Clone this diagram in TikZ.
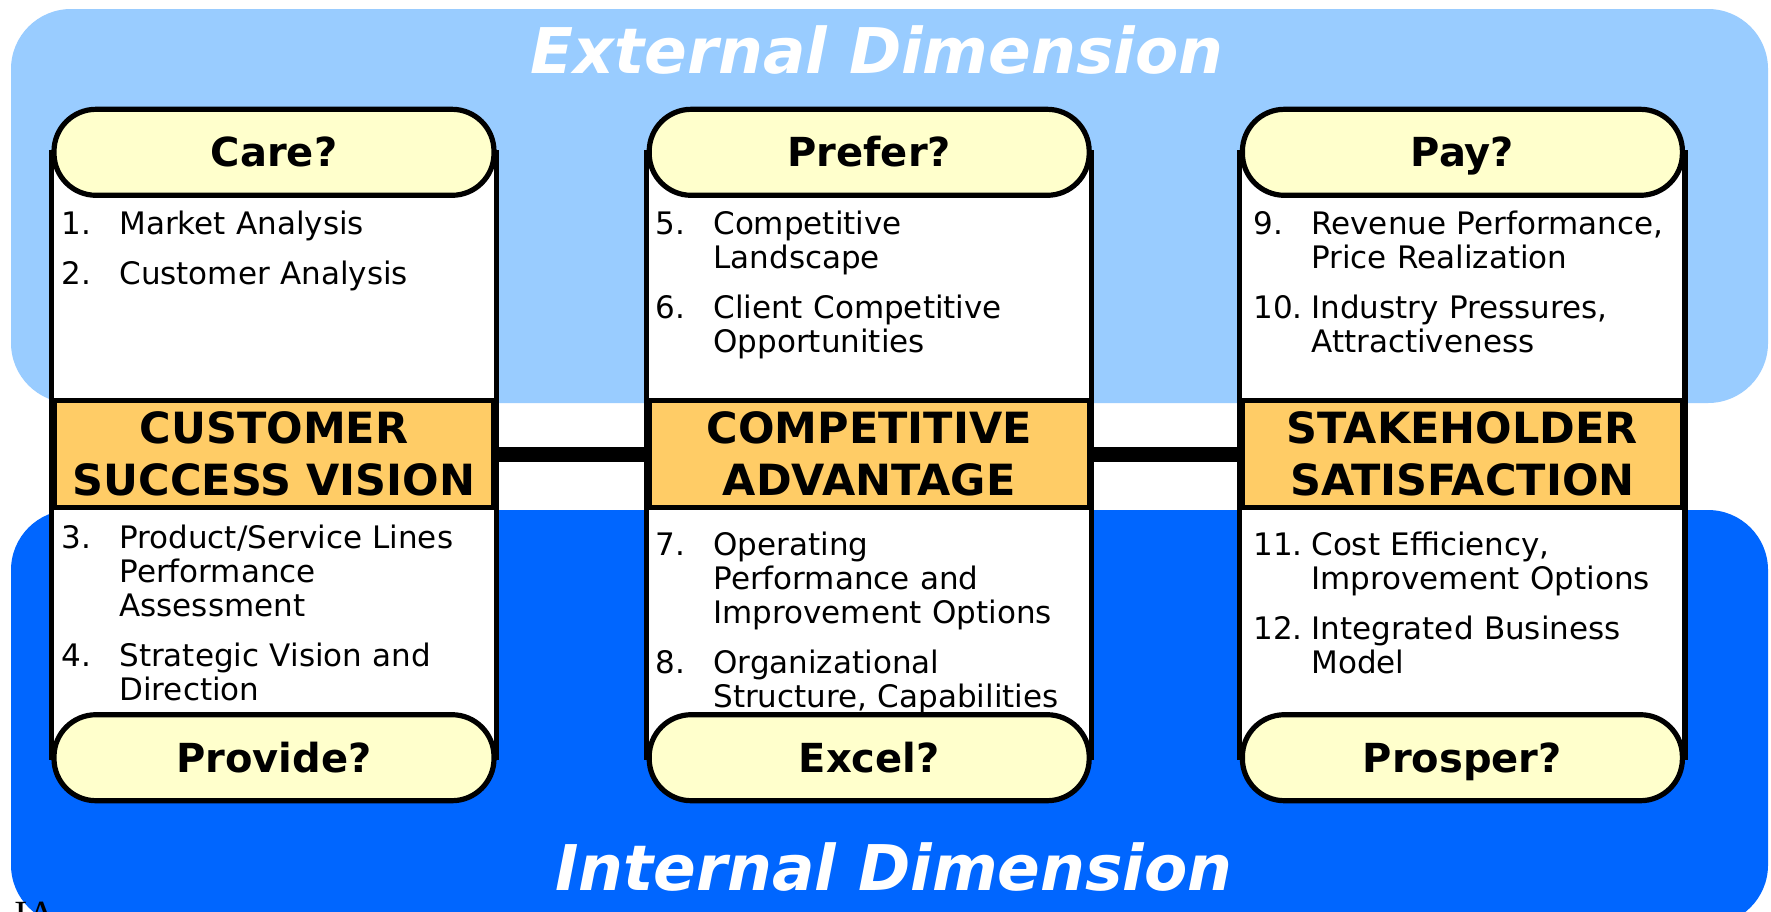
\documentclass[tikz,border=0pt]{standalone}
\usepackage{fontspec}
\setmainfont{DejaVu Sans}
\newfontfamily\iafont{Liberation Serif}
\usetikzlibrary{positioning, backgrounds}

\definecolor{extblue}{HTML}{99CCFF}
\definecolor{intblue}{HTML}{0066FF}
\definecolor{pillyellow}{HTML}{FFFFCC}
\definecolor{headorange}{HTML}{FFCC66}

% numbered entry with hanging indent
\newcommand{\itm}[2]{\hangindent=29pt\hangafter=1\noindent\makebox[29pt][l]{#1}#2\par}

\tikzset{
    band/.style={rounded corners=30pt},
    pill/.style={draw, line width=2.6pt, rounded corners=21pt, fill=pillyellow, minimum width=220pt, minimum height=43pt, text height=14.6pt, text depth=0pt, font=\fontsize{20}{24}\selectfont\bfseries},
    header/.style={draw, line width=2.6pt, fill=headorange, minimum width=220pt, minimum height=53.5pt, inner sep=0pt, align=center, font=\fontsize{21.5}{26}\selectfont\bfseries},
    colbox/.style={draw, line width=2.6pt, fill=white},
    items/.style={anchor=base west, inner sep=0pt, text width=230pt, font=\fontsize{15.5}{17}\selectfont, execute at begin node={\raggedright\setlength{\parskip}{8pt}}},
    dimlabel/.style={anchor=base, text=white, font=\fontsize{31.5}{36}\selectfont\bfseries\itshape},
    bar/.style={line width=7.5pt},
}

\begin{document}
\begin{tikzpicture}[x=0.5pt, y=-0.5pt]
    \useasboundingbox (0,0) rectangle (1771,911);

    \node[header] (csv) at (274,454) {CUSTOMER\\SUCCESS VISION};
    \node[header, right=75pt of csv] (cadv) {COMPETITIVE\\ADVANTAGE};
    \node[header, right=74pt of cadv] (ssat) {STAKEHOLDER\\SATISFACTION};

    \node[pill, above=100pt of csv] (care) {Care?};
    \node[pill, above=100pt of cadv] (prefer) {Prefer?};
    \node[pill, above=100pt of ssat] (pay) {Pay?};

    \node[pill, below=101pt of csv] (provide) {Provide?};
    \node[pill, below=101pt of cadv] (excel) {Excel?};
    \node[pill, below=101pt of ssat] (prosper) {Prosper?};

    \draw[bar] (csv) -- (cadv);
    \draw[bar] (cadv) -- (ssat);

    \begin{scope}[on background layer]
        \fill[white] (0,0) rectangle (1771,911);
        \fill[extblue, band] (11,9) rectangle (1768,403);
        \fill[intblue, band] (11,510) rectangle (1768,925);

        \node[dimlabel] (ext) at (877,73) {External Dimension};
        \node[dimlabel] (int) at (894,890) {Internal Dimension};
        \node[anchor=north west, inner sep=0pt, font=\iafont\fontsize{20}{20}\selectfont] (ia) at (14,902) {IA};

        \draw[colbox] (care.center -| csv.west) rectangle (provide.center -| csv.east);
        \draw[colbox] (prefer.center -| cadv.west) rectangle (excel.center -| cadv.east);
        \draw[colbox] (pay.center -| ssat.west) rectangle (prosper.center -| ssat.east);

        \node[items] (carelist) at (61,234) {\itm{1.}{Market Analysis}\itm{2.}{Customer Analysis}};
        \node[items] (preferlist) at (655,234) {\itm{5.}{Competitive\newline Landscape}\itm{6.}{Client Competitive\newline Opportunities}};
        \node[items] (paylist) at (1253,234) {\itm{9.}{Revenue Performance,\newline Price Realization}\itm{10.}{Industry Pressures,\newline Attractiveness}};

        \node[items] (providelist) at (61,548) {\itm{3.}{Product/Service Lines\newline Performance\newline Assessment}\itm{4.}{Strategic Vision and\newline Direction}};
        \node[items] (excellist) at (655,555) {\itm{7.}{Operating\newline Performance and\newline Improvement Options}\itm{8.}{Organizational\newline Structure, Capabilities}};
        \node[items] (prosperlist) at (1253,555) {\itm{11.}{Cost Efficiency,\newline Improvement Options}\itm{12.}{Integrated Business\newline Model}};
    \end{scope}
\end{tikzpicture}
\end{document}
